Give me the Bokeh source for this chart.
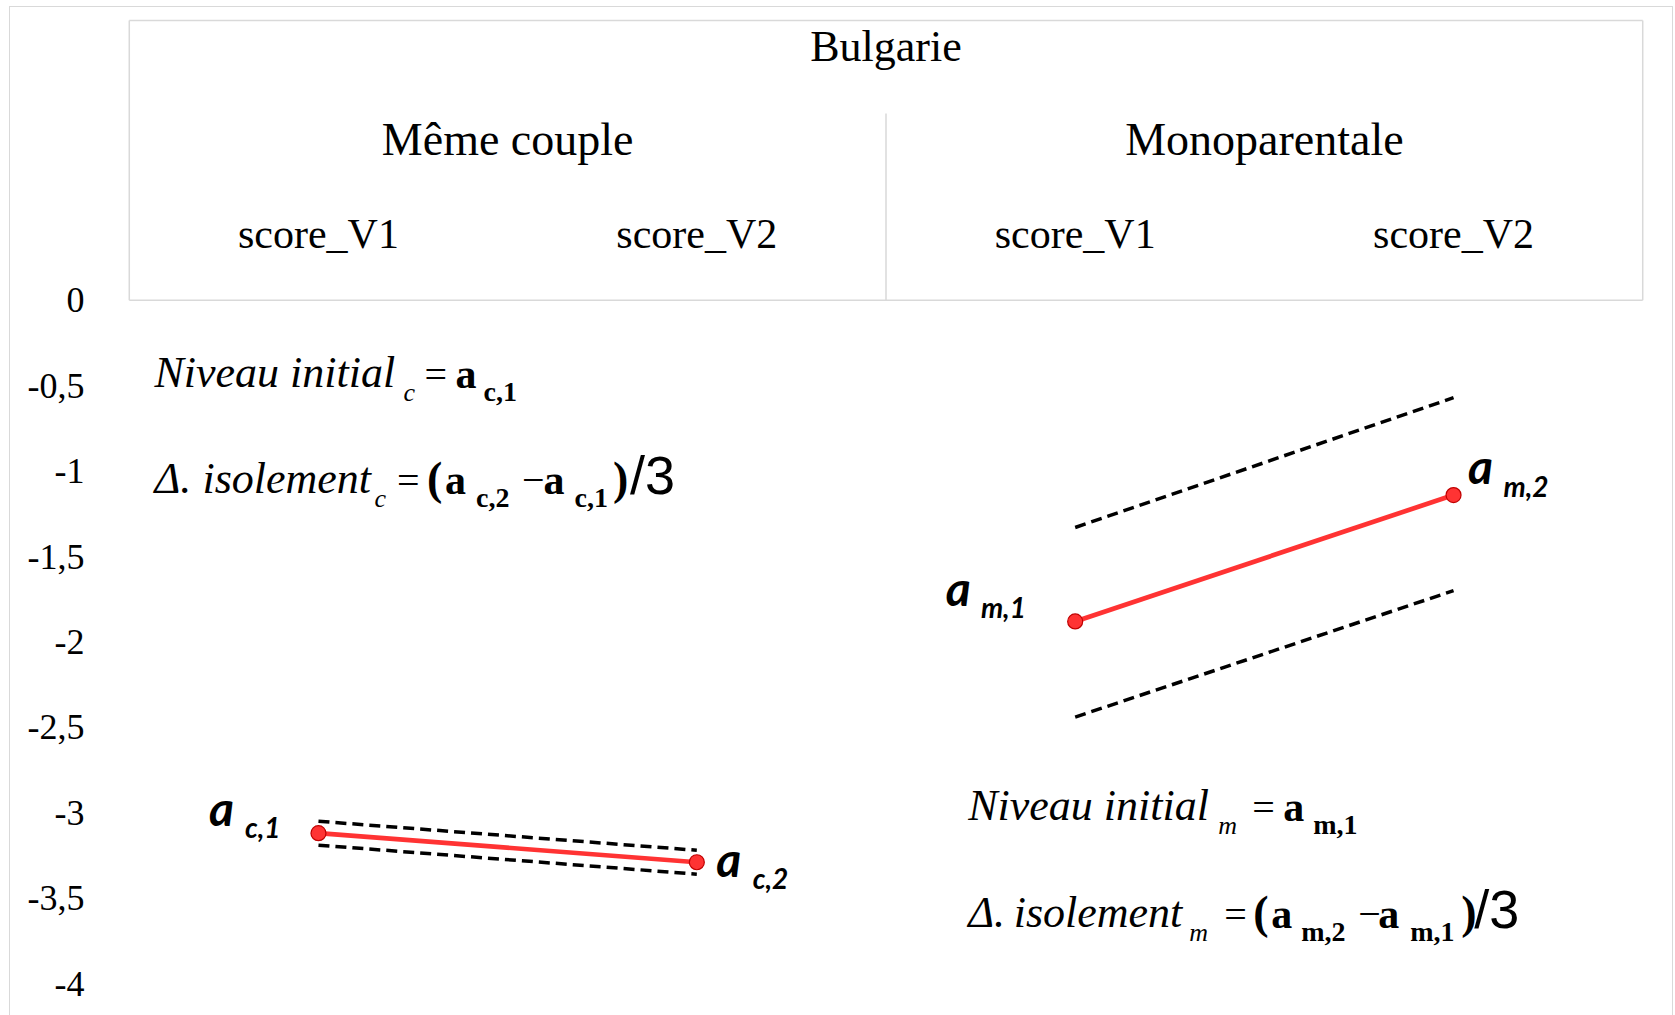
from bokeh.plotting import figure
from bokeh.models import (FactorRange, Range1d, FixedTicker, CustomJSTickFormatter, ColumnDataSource,
                          InlineStyleSheet)
from bokeh.transform import dodge
from bokeh.core.properties import value
from bokeh.embed import file_html
from bokeh.resources import INLINE

# ---------------- data ----------------
country = "Bulgarie"
groups = ["Même couple", "Monoparentale"]
scores = ["score_V1", "score_V2"]

couple_values = [-3.12, -3.29]
couple_upper = [-3.05, -3.22]
couple_lower = [-3.19, -3.36]

mono_values = [-1.88, -1.14]
mono_upper = [-1.33, -0.57]
mono_lower = [-2.44, -1.70]

couple_point_names = ["a", "a"]
couple_point_subs = ["c,1", "c,2"]
mono_point_names = ["a", "a"]
mono_point_subs = ["m,1", "m,2"]

y_ticks = [0, -0.5, -1, -1.5, -2, -2.5, -3, -3.5, -4]

factors = [(country, g, s) for g in groups for s in scores]
couple_factors = [(country, groups[0], s) for s in scores]
mono_factors = [(country, groups[1], s) for s in scores]

# ---------------- styles ----------------
SERIF = "Liberation Serif"
SANS = "Liberation Sans"
LABEL_FONT = "Lato"
GRID = "#d9d9d9"
RED = "#ff3333"
RED_EDGE = "#c00000"
BASE_FIX = 0.35          # text baseline correction, fraction of font size

HEADER_TOP = 1.638
DIVIDER_TOP = 1.094
ROW_COUNTRY = 1.484
ROW_GROUP = 0.942
ROW_SCORE = 0.389

x_range = FactorRange(factors=factors, factor_padding=0, subgroup_padding=0, group_padding=0,
                      range_padding=0.01, range_padding_units="absolute")

p = figure(width=1675, height=1015, x_range=x_range, y_range=Range1d(-4, 1.656),
           output_backend="svg", toolbar_location=None, x_axis_location=None,
           min_border_left=125, min_border_right=29, min_border_top=17, min_border_bottom=32)
p.outline_line_color = None
p.xgrid.visible = False
p.ygrid.visible = False
p.background_fill_color = "white"
p.border_fill_color = "white"
p.stylesheets = [InlineStyleSheet(css=(
    ":host::after { content: ''; position: absolute; left: 9px; top: 6px; width: 1664px; height: 1009px;"
    " border: 1.5px solid #d9d9d9; border-bottom: none; pointer-events: none; box-sizing: border-box; }"))]

# y axis
yax = p.yaxis[0]
yax.ticker = FixedTicker(ticks=y_ticks)
yax.formatter = CustomJSTickFormatter(code="return tick.toString().replace('.', ',');")
yax.axis_line_color = None
yax.major_tick_line_color = None
yax.minor_tick_line_color = None
yax.major_tick_out = 0
yax.major_tick_in = 0
yax.major_label_standoff = 41
yax.major_label_text_font = SERIF
yax.major_label_text_font_size = "36px"
yax.major_label_text_color = "black"

# header box lines
hsrc = ColumnDataSource(dict(xl=[factors[0]] * 2, xr=[factors[-1]] * 2, y=[0, HEADER_TOP]))
p.segment(x0=dodge("xl", -0.5, range=x_range), y0="y", x1=dodge("xr", 0.5, range=x_range), y1="y",
          source=hsrc, line_color=GRID, line_width=1.5)
vlsrc = ColumnDataSource(dict(x=[factors[0]], y0=[0], y1=[HEADER_TOP]))
p.segment(x0=dodge("x", -0.5, range=x_range), y0="y0", x1=dodge("x", -0.5, range=x_range), y1="y1",
          source=vlsrc, line_color=GRID, line_width=1.5)
vrsrc = ColumnDataSource(dict(x=[couple_factors[-1], factors[-1]], y0=[0, 0], y1=[DIVIDER_TOP, HEADER_TOP]))
p.segment(x0=dodge("x", 0.5, range=x_range), y0="y0", x1=dodge("x", 0.5, range=x_range), y1="y1",
          source=vrsrc, line_color=GRID, line_width=1.5)

# header texts
p.text(x="x", y="y", text="t", source=ColumnDataSource(dict(x=[country], y=[ROW_COUNTRY], t=[country])),
       text_font=value(SERIF), text_font_size="44px", text_align="center", text_baseline="alphabetic",
       text_color="black")
p.text(x="x", y="y", text="t",
       source=ColumnDataSource(dict(x=[(country, g) for g in groups], y=[ROW_GROUP] * 2, t=groups)),
       text_font=value(SERIF), text_font_size="46px", text_align="center", text_baseline="alphabetic",
       text_color="black")
p.text(x="x", y="y", text="t",
       source=ColumnDataSource(dict(x=factors, y=[ROW_SCORE] * 4, t=[f[2] for f in factors])),
       text_font=value(SERIF), text_font_size="42px", text_align="center", text_baseline="alphabetic",
       text_color="black")

# dashed bands and red lines
for fx, vals, up, lo in [(couple_factors, couple_values, couple_upper, couple_lower),
                         (mono_factors, mono_values, mono_upper, mono_lower)]:
    src = ColumnDataSource(dict(x=fx, y=vals, up=up, lo=lo))
    p.line(x="x", y="up", source=src, line_color="black", line_width=3.5, line_dash="11 6")
    p.line(x="x", y="lo", source=src, line_color="black", line_width=3.5, line_dash="11 6")
    p.line(x="x", y="y", source=src, line_color=RED, line_width=4.7)
    p.scatter(x="x", y="y", source=src, size=15, fill_color=RED, line_color=RED_EDGE, line_width=1.2)

# point labels (a_{c,1} ...)
lab_src = ColumnDataSource(dict(
    x=couple_factors + mono_factors,
    y=couple_values + mono_values,
    name=couple_point_names + mono_point_names,
    sub=couple_point_subs + mono_point_subs,
    dx=[-109.5, 19.5, -129.5, 14.5],
    dy=[d - BASE_FIX * 48 for d in [-9.4, 13.2, -17.0, -12.6]],
    sdx=[-73.4, 56.0, -94.3, 50.0],
    sdy=[d - BASE_FIX * 28 for d in [3.3, 26.0, -4.3, 0.4]],
))
p.text(x="x", y="y", text="name", source=lab_src, x_offset="dx", y_offset="dy",
       text_font=value(LABEL_FONT), text_font_style="bold italic", text_font_size="48px",
       text_baseline="alphabetic", text_align="left", text_color="black")
p.text(x="x", y="y", text="sub", source=lab_src, x_offset="sdx", y_offset="sdy",
       text_font=value(LABEL_FONT), text_font_style="bold italic", text_font_size="28px",
       text_baseline="alphabetic", text_align="left", text_color="black")


# formula annotations
def add_pieces(anchor, pieces):
    for text, dx, dy, size, style, font in pieces:
        src = ColumnDataSource(dict(x=[anchor], y=[0], t=[text]))
        p.text(x="x", y="y", text="t", source=src, x_offset=dx, y_offset=dy - BASE_FIX * size,
               text_font=value(font), text_font_style=style, text_font_size=f"{size}px",
               text_baseline="alphabetic", text_align="left", text_color="black")


def formula_pieces(letter, l1, l2):
    (b1, x_start, x_sub1, x_eq1, x_a1, x_s1) = l1
    (b2, x_d, x_iso, x_sub2, x_eq2, x_po, x_a2, x_s2, x_min, x_a3, x_s3, x_pc, x_div) = l2
    return [
        ("Niveau initial", x_start, b1, 44, "italic", SERIF),
        (letter, x_sub1, b1 + 13, 26, "italic", SERIF),
        ("=", x_eq1, b1, 40, "normal", SERIF),
        ("a", x_a1, b1, 42, "bold", SERIF),
        (f"{letter},1", x_s1, b1 + 13, 28, "bold", SERIF),
        ("Δ.", x_d, b2, 44, "italic", SERIF),
        ("isolement", x_iso, b2, 44, "italic", SERIF),
        (letter, x_sub2, b2 + 13, 26, "italic", SERIF),
        ("=", x_eq2, b2, 40, "normal", SERIF),
        ("(", x_po, b2, 46, "bold", SERIF),
        ("a", x_a2, b2, 42, "bold", SERIF),
        (f"{letter},2", x_s2, b2 + 13, 28, "bold", SERIF),
        ("−", x_min, b2, 40, "normal", SERIF),
        ("a", x_a3, b2, 42, "bold", SERIF),
        (f"{letter},1", x_s3, b2 + 13, 28, "bold", SERIF),
        (")", x_pc, b2, 46, "bold", SERIF),
        ("/3", x_div, b2, 54, "normal", SANS),
    ]


add_pieces(couple_factors[0], formula_pieces(
    "c",
    (88, -164, 85, 106, 137, 165),
    (194, -164, -116, 56, 78.5, 108.5, 126.5, 157.5, 203.5, 225, 256, 294.5, 311.5)))
add_pieces(mono_factors[0], formula_pieces(
    "m",
    (521, -107, 143, 177, 208, 238),
    (628, -107, -61.5, 114, 149, 178, 196, 226, 283, 303, 335, 386, 399)))

open("out.html", "w").write(file_html(p, INLINE))
